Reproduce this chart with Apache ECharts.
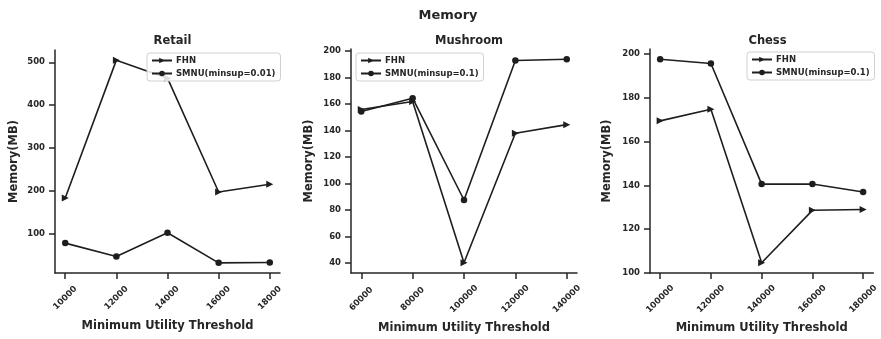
<!DOCTYPE html>
<html>
<head>
<meta charset="utf-8">
<script src="https://cdn.jsdelivr.net/npm/echarts@6/dist/echarts.min.js"></script>
<style>html,body{margin:0;padding:0;background:#fff}#c{width:881px;height:339px}</style>
</head>
<body>
<div id="c"></div>
<script>
// ---- data ----
const retailX = [10000, 12000, 14000, 16000, 18000];
const retailFHN = [184, 505, 463, 198, 216];
const retailSMNU = [79, 48, 103, 33, 34];
const retailYTicks = [100, 200, 300, 400, 500];

const mushroomX = [60000, 80000, 100000, 120000, 140000];
const mushroomFHN = [156, 162, 40, 138, 144.5];
const mushroomSMNU = [154.5, 164.5, 87.5, 193, 194];
const mushroomYTicks = [40, 60, 80, 100, 120, 140, 160, 180, 200];

const chessX = [100000, 120000, 140000, 160000, 180000];
const chessFHN = [169.5, 174.8, 104.6, 128.6, 129];
const chessSMNU = [197.7, 195.7, 140.6, 140.6, 137];
const chessYTicks = [100, 120, 140, 160, 180, 200];

const panelTitles = ['Retail', 'Mushroom', 'Chess'];
const smnuNames = ['SMNU(minsup=0.01)', 'SMNU(minsup=0.1)', 'SMNU(minsup=0.1)'];
const mainTitle = 'Memory';
const xTitle = 'Minimum Utility Threshold';
const yTitle = 'Memory(MB)';

// ---- layout ----
const FONT = 'DejaVu Sans';
const DARK = '#262626';
const LINE = '#1e1e1e';
const panels = [
  {x: retailX, fhn: retailFHN, smnu: retailSMNU, yt: retailYTicks, grid: {left: 55, top: 50, width: 225, height: 223}, nameGap: 35, labMargin: 25, legend: {left: 147, top: 53}},
  {x: mushroomX, fhn: mushroomFHN, smnu: mushroomSMNU, yt: mushroomYTicks, grid: {left: 351, top: 49, width: 226, height: 224}, nameGap: 36, labMargin: 26, legend: {left: 356, top: 53}},
  {x: chessX, fhn: chessFHN, smnu: chessSMNU, yt: chessYTicks, grid: {left: 650, top: 49, width: 225, height: 224}, nameGap: 37, labMargin: 26, legend: {left: 747, top: 52}}
];

function range(arr) {
  const mn = Math.min(...arr), mx = Math.max(...arr);
  const m = (mx - mn) * 0.05;
  return [mn - m, mx + m];
}

const triangle = 'path://M0,0L10,5L0,10Z';
const grids = [], xAxes = [], yAxes = [], series = [], legends = [];
const titles = [{text: mainTitle, left: 443, top: 4, textAlign: 'center',
  textStyle: {fontFamily: FONT, fontSize: 13, fontWeight: 'bold', color: DARK}}];

panels.forEach((p, i) => {
  grids.push(Object.assign({containLabel: false}, p.grid));
  const xr = range(p.x);
  const yr = range(p.fhn.concat(p.smnu));
  titles.push({text: panelTitles[i], left: p.grid.left + p.grid.width / 2, top: 30, textAlign: 'center',
    textStyle: {fontFamily: FONT, fontSize: 11.5, fontWeight: 'bold', color: DARK}});
  xAxes.push({
    type: 'value', gridIndex: i, min: xr[0], max: xr[1],
    splitLine: {show: false},
    axisLine: {show: true, onZero: false, lineStyle: {color: DARK, width: 1.5}},
    axisTick: {show: true, inside: false, length: 6, lineStyle: {color: DARK, width: 1.5}, customValues: p.x},
    axisLabel: {customValues: p.x, rotate: 45, align: 'center', verticalAlign: 'middle', margin: p.labMargin,
      formatter: v => String(v),
      fontFamily: FONT, fontSize: 8.5, fontWeight: 'bold', color: DARK},
    name: xTitle, nameLocation: 'middle', nameGap: 47,
    nameTextStyle: {fontFamily: FONT, fontSize: 11.5, fontWeight: 'bold', color: DARK}
  });
  yAxes.push({
    type: 'value', gridIndex: i, min: yr[0], max: yr[1],
    splitLine: {show: false},
    axisLine: {show: true, onZero: false, lineStyle: {color: DARK, width: 1.5}},
    axisTick: {show: true, inside: false, length: 6, lineStyle: {color: DARK, width: 1.5}, customValues: p.yt},
    axisLabel: {customValues: p.yt, margin: 10, formatter: v => String(v),
      fontFamily: FONT, fontSize: 8.5, fontWeight: 'bold', color: DARK},
    name: yTitle, nameLocation: 'middle', nameGap: p.nameGap,
    nameTextStyle: {fontFamily: FONT, fontSize: 11.5, fontWeight: 'bold', color: DARK}
  });
  const common = {type: 'line', xAxisIndex: i, yAxisIndex: i, animation: false,
    lineStyle: {color: LINE, width: 1.6}, itemStyle: {color: LINE}};
  series.push(Object.assign({}, common, {name: 'FHN', symbol: triangle, symbolSize: [7, 7],
    data: p.x.map((v, k) => [v, p.fhn[k]])}));
  series.push(Object.assign({}, common, {name: smnuNames[i], symbol: 'circle', symbolSize: 6.5,
    data: p.x.map((v, k) => [v, p.smnu[k]])}));
  legends.push({
    orient: 'vertical', left: p.legend.left, top: p.legend.top,
    data: ['FHN', smnuNames[i]], itemWidth: 20, itemHeight: 7, itemGap: 4,
    padding: [3, 5, 3, 4], borderColor: '#d0d0d0', borderWidth: 1, borderRadius: 3,
    backgroundColor: 'rgba(255,255,255,0.85)', selectedMode: false,
    textStyle: {fontFamily: FONT, fontSize: 8.5, fontWeight: 'bold', color: DARK, padding: [0, 0, 0, -1]}
  });
});

const chart = echarts.init(document.getElementById('c'), null, {renderer: 'canvas'});
chart.setOption({
  animation: false,
  backgroundColor: '#fff',
  title: titles,
  grid: grids,
  xAxis: xAxes,
  yAxis: yAxes,
  legend: legends,
  series: series
});
</script>
</body>
</html>
